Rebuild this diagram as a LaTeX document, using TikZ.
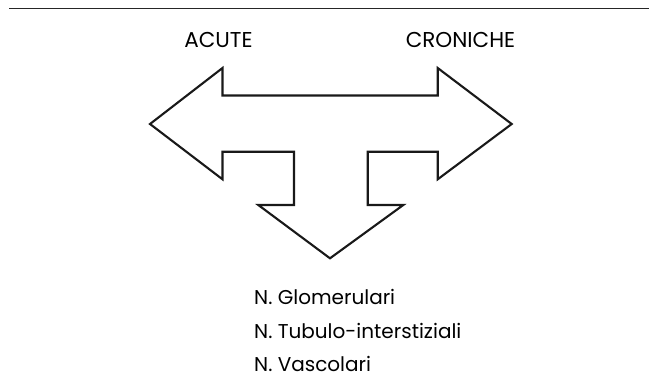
\documentclass[tikz,border=0pt]{standalone}
\usepackage{fontspec}
\setmainfont{Poppins}
\begin{document}
\begin{tikzpicture}[x=1pt,y=-1pt,
  lbl/.style={inner sep=0pt,font=\fontsize{21.5}{24}\selectfont},
  item/.style={inner sep=0pt,font=\fontsize{20}{24}\selectfont},
  arrowshape/.style={draw=black!90,line width=2.1pt,line join=miter,fill=white}]
\useasboundingbox (0,0) rectangle (649,386);
\coordinate (l1) at (9,8.3);
\coordinate (l2) at (649,8.3);
\draw[line width=1.4pt,black!85] (l1) -- (l2);
\draw[arrowshape] (150,124) -- (222.5,68) -- (222.5,95.5) -- (437.7,95.5) -- (437.7,68)
  -- (511.7,124) -- (437.7,179.3) -- (437.7,151.7) -- (367.7,151.7) -- (367.7,205)
  -- (403.3,205) -- (330,258.3) -- (258.3,205) -- (294,205) -- (294,151.7)
  -- (222.5,151.7) -- (222.5,179.3) -- cycle;
\node[lbl,anchor=base] (acute) at (218.5,47.3) {ACUTE};
\node[lbl,anchor=base] (croniche) at (460.5,47.3) {CRONICHE};
\node[item,anchor=base west] (g) at (254,304.5) {N. Glomerulari};
\node[item,anchor=base west] (t) at (254,338.5) {N. Tubulo-interstiziali};
\node[item,anchor=base west] (v) at (254,371.5) {N. Vascolari};
\end{tikzpicture}
\end{document}
